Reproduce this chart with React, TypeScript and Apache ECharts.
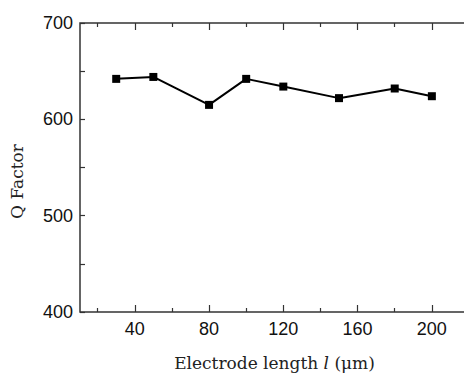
import React, { useEffect, useRef } from "react";
import * as echarts from "echarts";

const lengths = [30, 50, 80, 100, 120, 150, 180, 200];
const qFactor = [642, 644, 615, 642, 634, 622, 632, 624];
const xMajor = [40, 80, 120, 160, 200];
const xMinor = [20, 60, 100, 140, 180];
const yTicks = [400, 500, 600, 700];

export default function App() {
  const ref = useRef<HTMLDivElement>(null);
  useEffect(() => {
    const chart = echarts.init(ref.current!, null, { renderer: "svg" });
    const axisColor = "#333";
    const tickStyle = { color: axisColor, width: 1.2 };
    const xBase = { type: "value", min: 10.5, max: 220, splitLine: { show: false }, axisLine: { show: false } };
    chart.setOption({
      animation: false,
      backgroundColor: "#fff",
      grid: {
        left: 79, top: 23, right: 5, bottom: 63, containLabel: false,
        show: true, borderColor: axisColor, borderWidth: 1.5, backgroundColor: "transparent",
      },
      xAxis: [
        {
          ...xBase,
          position: "bottom",
          axisTick: { show: true, inside: true, length: 7, customValues: xMajor, lineStyle: tickStyle },
          axisLabel: {
            color: "#111",
            fontFamily: "Liberation Sans",
            fontSize: 18,
            margin: 8,
            customValues: xMajor,
          },
          name: "{a|Electrode length }{i|l}{a| (μm)}",
          nameLocation: "middle",
          nameGap: 42,
          nameTextStyle: {
            rich: {
              a: { fontFamily: "DejaVu Serif", fontSize: 17, color: "#222" },
              i: { fontFamily: "DejaVu Serif", fontStyle: "italic", fontSize: 17, color: "#222" },
            },
          },
        },
        {
          ...xBase,
          position: "top",
          axisTick: { show: true, inside: true, length: 7, customValues: xMajor, lineStyle: tickStyle },
          axisLabel: { show: false },
        },
        {
          ...xBase,
          position: "bottom",
          axisTick: { show: true, inside: true, length: 4, customValues: xMinor, lineStyle: tickStyle },
          axisLabel: { show: false },
        },
        {
          ...xBase,
          position: "top",
          axisTick: { show: true, inside: true, length: 4, customValues: xMinor, lineStyle: tickStyle },
          axisLabel: { show: false },
        },
      ],
      yAxis: {
        type: "value",
        min: 400,
        max: 700,
        interval: 50,
        axisLine: { show: false },
        splitLine: { show: false },
        axisTick: { show: true, inside: true, length: 5, lineStyle: tickStyle },
        axisLabel: {
          color: "#111",
          fontFamily: "Liberation Sans",
          fontSize: 18,
          margin: 7,
          formatter: (v: number) => (yTicks.includes(v) ? String(v) : ""),
        },
        name: "Q Factor",
        nameLocation: "middle",
        nameGap: 55,
        nameTextStyle: {
          fontFamily: "DejaVu Serif",
          fontSize: 17,
          color: "#222",
          padding: [0, 28, 0, 0],
        },
      },
      series: [
        {
          type: "line",
          xAxisIndex: 0,
          data: lengths.map((x, i) => [x, qFactor[i]]),
          symbol: "rect",
          symbolSize: 8,
          lineStyle: { color: "#000", width: 2 },
          itemStyle: { color: "#000" },
        },
      ],
    });
    return () => chart.dispose();
  }, []);
  return (
    <div style={{ position: "absolute", left: 0, top: 0, width: 464, height: 376, overflow: "hidden" }}>
      <div ref={ref} style={{ width: 474, height: 376 }} />
    </div>
  );
}
